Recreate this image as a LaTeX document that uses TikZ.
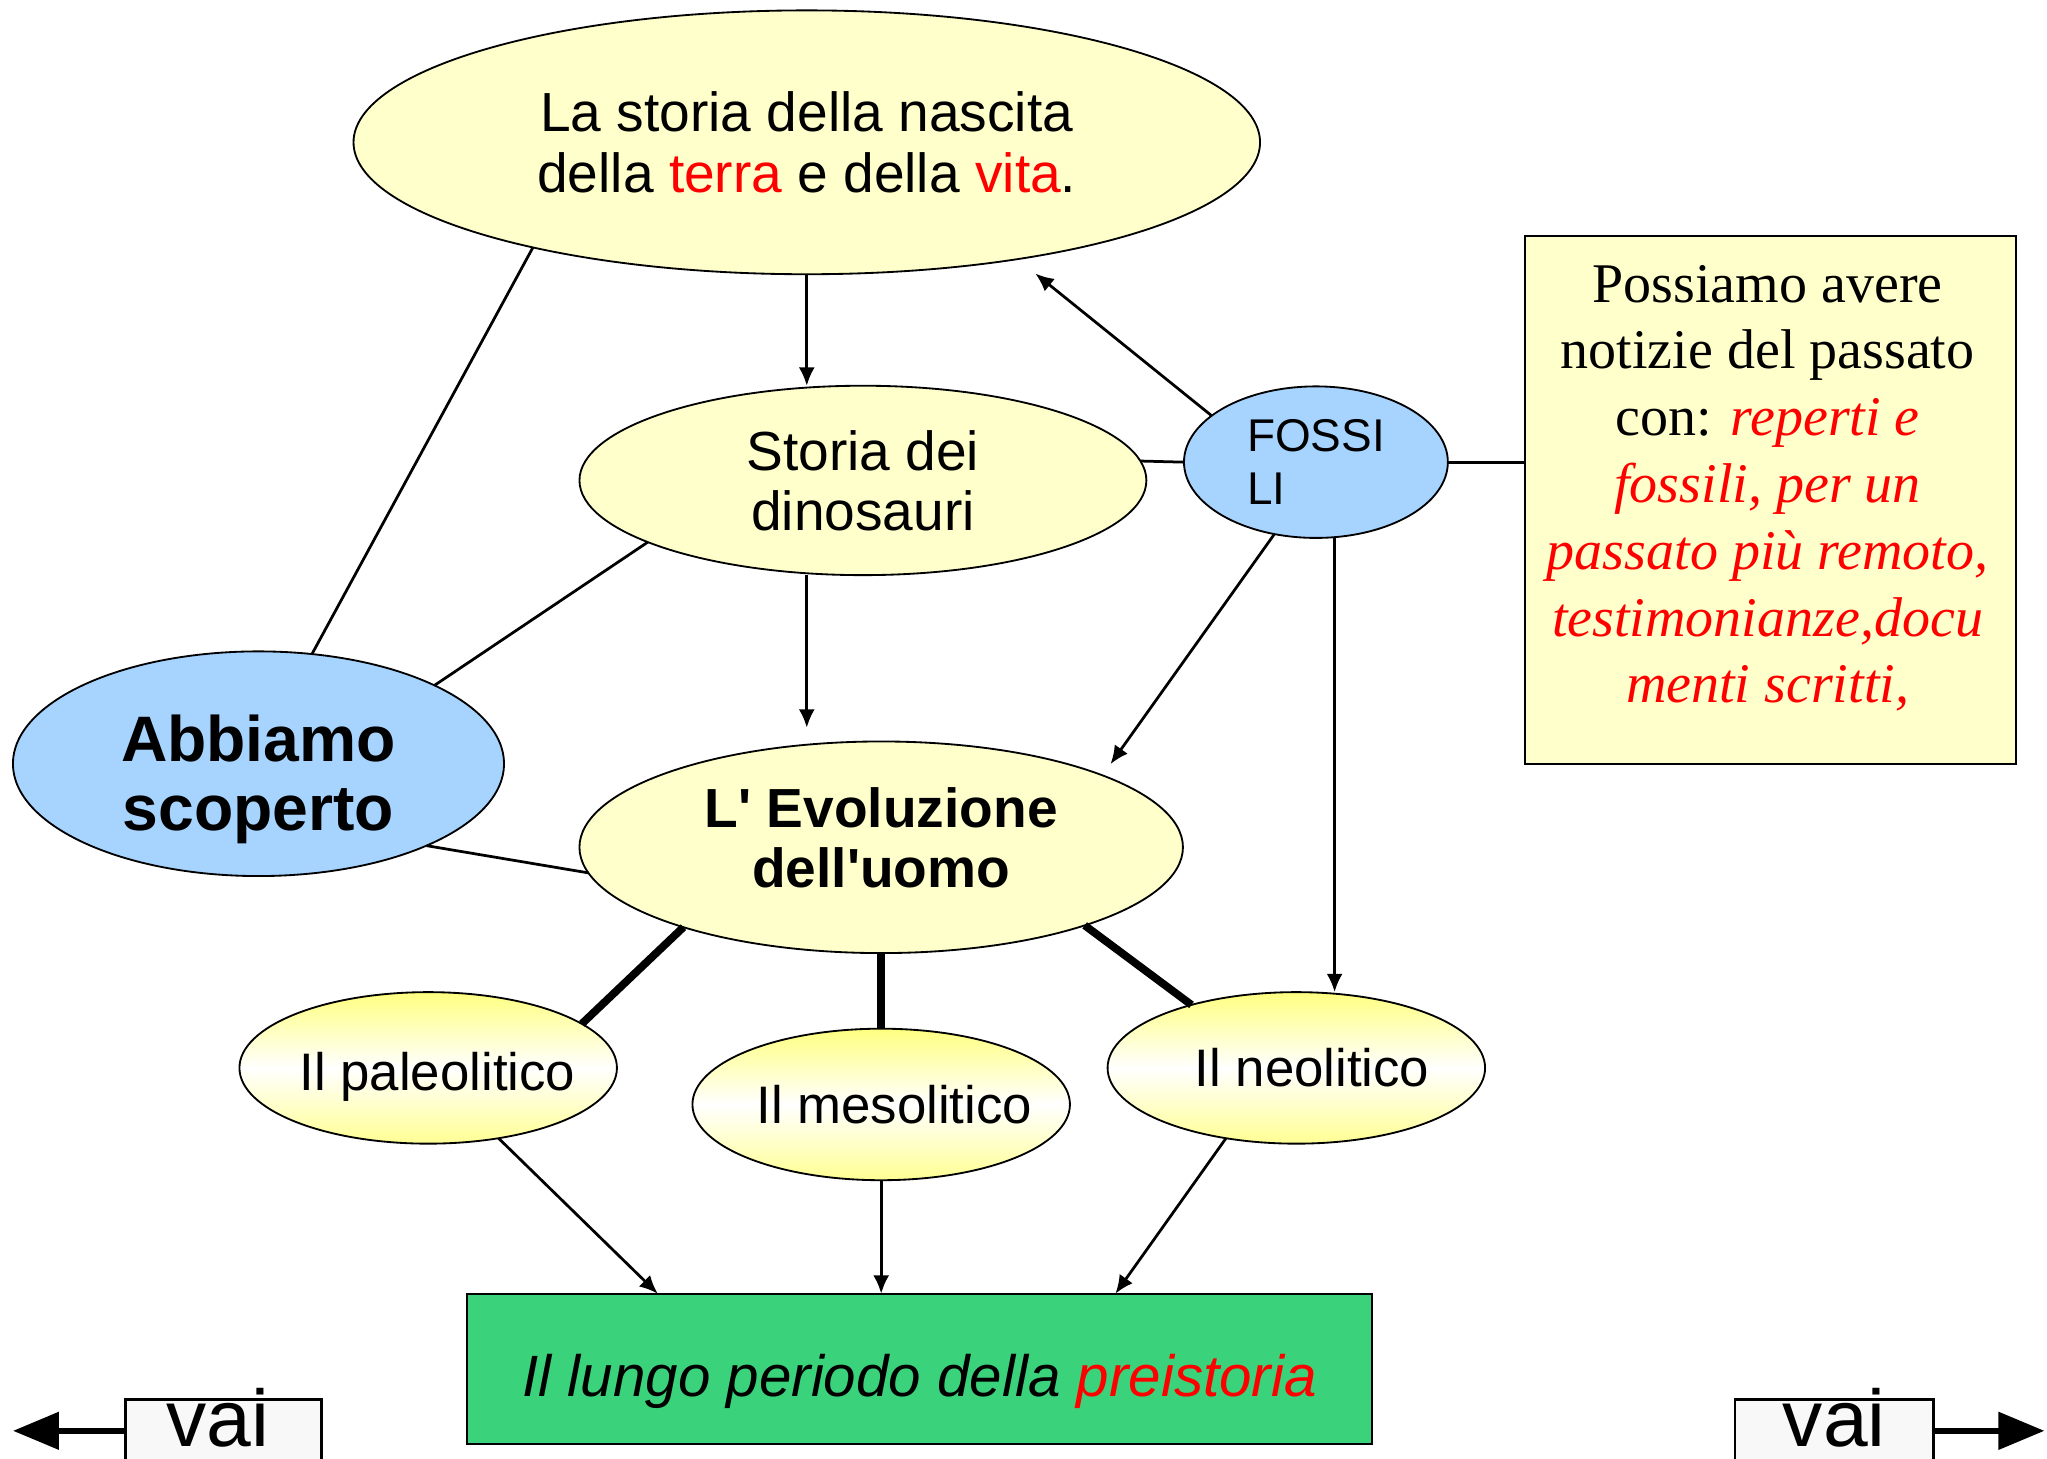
\documentclass[tikz,border=0pt]{standalone}
\usepackage{fontspec}
\setmainfont{Liberation Sans}
\newfontfamily\notefont{Liberation Serif}
\usetikzlibrary{shapes.geometric}
\usetikzlibrary{arrows.meta}

\definecolor{paleyellow}{HTML}{FFFFCC}
\definecolor{skyblue}{HTML}{A6D4FF}
\definecolor{leafgreen}{HTML}{3AD37B}
\definecolor{periodyellow}{HTML}{FFFF80}
\definecolor{btngray}{HTML}{F8F8F8}

\newcommand{\redit}[1]{\textcolor{red}{\itshape #1}}

\tikzset{
  bubble/.style={ellipse, draw, fill=paleyellow, inner sep=0pt, outer sep=0pt, align=center},
  fossil/.style={ellipse, draw, fill=skyblue, inner sep=0pt, outer sep=0pt},
  period/.style={ellipse, draw, top color=periodyellow, bottom color=periodyellow!85, middle color=white,
    inner sep=0pt, outer sep=0pt, minimum width=2.89cm, minimum height=1.16cm},
  periodtext/.style={font=\fontsize{11.5}{13}\selectfont},
  link/.style={line width=0.6pt},
  thicklink/.style={line width=1.7pt},
  arrowlink/.style={line width=0.6pt, -{Latex[length=4pt,width=3.5pt]}},
  vaibox/.style={draw, fill=btngray, line width=0.6pt, minimum width=1.5cm, minimum height=0.48cm, inner sep=0pt},
  vaitext/.style={font=\fontsize{17.5}{19}\selectfont, anchor=base, inner sep=0pt},
  vaiarrow/.style={line width=1.2pt, -{Triangle[length=10pt,width=8pt]}}
}

\begin{document}
\begin{tikzpicture}[x=0.01cm, y=-0.01cm, font=\fontsize{12}{13.1}\selectfont]
\clip (0,0) rectangle (1568,1117);
% ellipses
\node[bubble, minimum width=6.94cm, minimum height=2.02cm] (storia) at (618,109)
  {La storia della nascita\\della \textcolor{red}{terra} e della \textcolor{red}{vita}.};
\node[bubble, minimum width=4.34cm, minimum height=1.45cm] (dino) at (661,368) {Storia dei\\dinosauri};
\node[fossil, align=left, minimum width=2.02cm, minimum height=1.16cm,
  font=\fontsize{10}{11.6}\selectfont] (fossili) at (1008,354) {FOSSI\\LI};
\node[fossil, minimum width=3.76cm, minimum height=1.72cm,
  label={[align=center, yshift=-0.12cm, font=\bfseries\fontsize{14}{15}\selectfont]center:Abbiamo\\scoperto}]
  (abb) at (198,585) {};
\node[bubble, minimum width=4.62cm, minimum height=1.62cm,
  label={[align=center, yshift=0.07cm, font=\bfseries\fontsize{12}{13.1}\selectfont]center:L\textquotesingle{} Evoluzione\\dell\textquotesingle uomo}]
  (evo) at (675,649) {};
\node[period, label={[periodtext, xshift=0.07cm, yshift=-0.07cm]center:Il paleolitico}] (paleo) at (328,818) {};
\node[period, label={[periodtext, xshift=0.10cm]center:Il mesolitico}] (meso) at (675,846) {};
\node[period, label={[periodtext, xshift=0.12cm]center:Il neolitico}] (neo) at (993,818) {};
% boxes
\node[draw, fill=paleyellow, outer sep=0pt, minimum width=3.76cm, minimum height=4.04cm] (note) at (1356,383) {};
\node[align=center, font=\notefont\fontsize{12.2}{14.55}\selectfont] (note-t) at (1354,374)
  {Possiamo avere\\notizie del passato\\con: \redit{reperti e}\\\redit{fossili, per un}\\
   \redit{passato più remoto,}\\\redit{testimonianze,docu}\\\redit{menti scritti,}};
\node[draw, fill=leafgreen, outer sep=0pt, minimum width=6.93cm, minimum height=1.15cm,
  label={[yshift=-0.1cm, font=\itshape\fontsize{12.7}{14}\selectfont]center:Il lungo periodo della \textcolor{red}{preistoria}}]
  (preist) at (704.5,1048.5) {};
% buttons
\node[vaibox] (indietro) at (171,1096) {};
\node[vaitext] (indietro-t) at (167,1108) {vai};
\coordinate (indietro-end) at (10,1096);
\node[vaibox, minimum width=1.52cm] (avanti) at (1405,1096) {};
\node[vaitext] (avanti-t) at (1405,1108) {vai};
\coordinate (avanti-end) at (1566,1096);
\draw[vaiarrow] (indietro.west) -- (indietro-end);
\draw[vaiarrow] (avanti.east) -- (avanti-end);
% connectors
\draw[arrowlink] (storia.south) -- (storia.south |- dino.north);
\draw[arrowlink, shorten >=3pt] (dino.south -| storia.south) -- (evo.north -| storia.south);
\draw[arrowlink, shorten >=5pt] (fossili.156) -- (storia.331);
\draw[link] (dino.4) -- (fossili.west);
\draw[link] (fossili.east) -- (fossili.east -| note.west);
\draw[arrowlink, shorten >=3pt] (fossili.240) -- (evo.18);
\draw[arrowlink] (fossili.284) -- (fossili.284 |- neo.north);
\draw[link] (storia.201) -- (abb.64);
\draw[link] (dino.196) -- (abb.24);
\draw[link] (abb.334) -- (evo.185);
\draw[thicklink] (evo.202) -- (paleo.16);
\draw[thicklink] (evo.south) -- (meso.north);
\draw[thicklink] (evo.339) -- (neo.149);
\draw[arrowlink] (paleo.315) -- (preist.164);
\draw[arrowlink] (meso.south) -- (meso.south |- preist.north);
\draw[arrowlink] (neo.225) -- (preist.21);
\end{tikzpicture}
\end{document}
